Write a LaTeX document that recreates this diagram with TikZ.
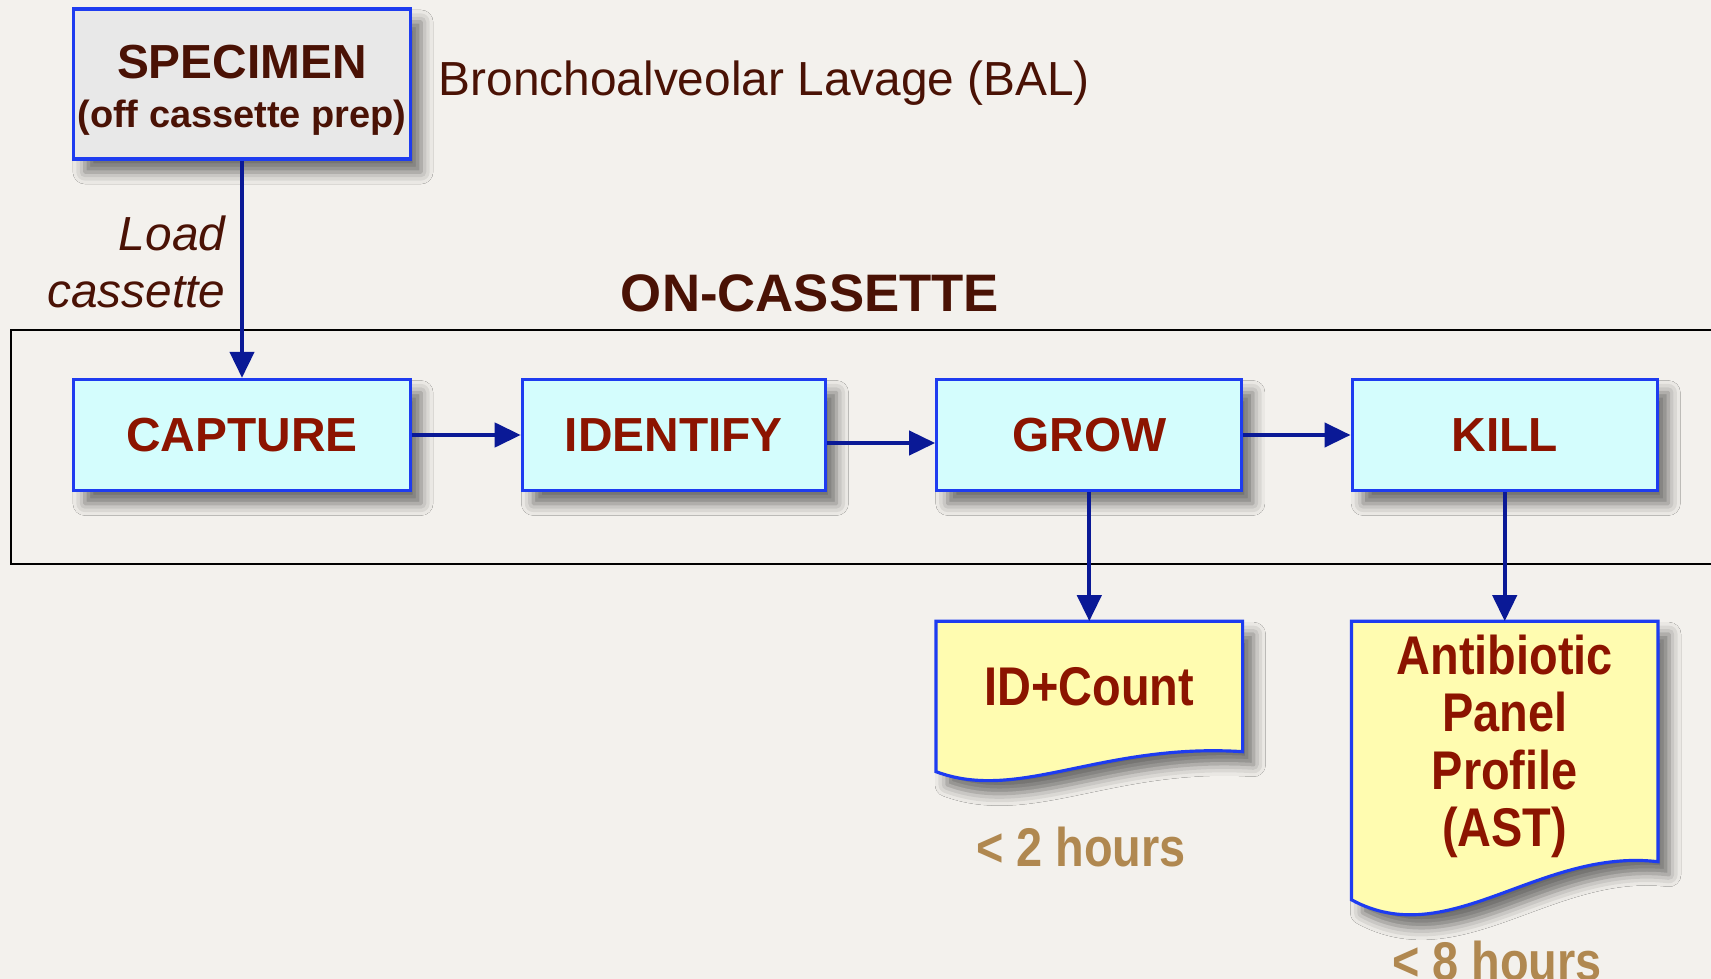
\documentclass[tikz,border=0pt]{standalone}
\usepackage{fontspec}
\setmainfont{Liberation Sans}
\newfontfamily\narrowfont[FakeStretch=0.86]{Liberation Sans}
\usetikzlibrary{arrows.meta,positioning,shadows.blur,backgrounds}

\definecolor{bgpaper}{RGB}{243,241,237}
\definecolor{boxblue}{RGB}{30,60,240}
\definecolor{arrownavy}{RGB}{10,25,150}
\definecolor{stepcyan}{RGB}{212,253,253}
\definecolor{resultyellow}{RGB}{255,252,176}
\definecolor{specgray}{RGB}{232,232,232}
\definecolor{textred}{RGB}{140,20,0}
\definecolor{textbrown}{RGB}{74,18,5}
\definecolor{timetan}{RGB}{176,136,80}

\begin{document}
\begin{tikzpicture}[
  x=0.01cm, y=-0.01cm,
  boxshadow/.style={blur shadow={shadow xshift=0.11cm,shadow yshift=-0.13cm,
    shadow blur radius=0.12cm,shadow opacity=55}},
  stage/.style={draw=boxblue, line width=0.9pt, fill=stepcyan, boxshadow,
    minimum width=3.05cm, minimum height=1.11cm, inner sep=0pt,
    text=textred, font=\bfseries\fontsize{13.6}{16}\selectfont},
  specbox/.style={draw=boxblue, line width=0.9pt, fill=specgray, boxshadow,
    minimum width=3.36cm, minimum height=1.5cm, inner sep=0pt, align=center,
    text=textbrown, font=\bfseries\fontsize{10.8}{13}\selectfont},
  result/.style={text=textred, align=center, inner sep=0pt,
    font=\narrowfont\bfseries\fontsize{15.5}{16.3}\selectfont},
  docshape/.style={draw=boxblue, line width=0.9pt, fill=resultyellow, boxshadow},
  flow/.style={draw=arrownavy, line width=1.2pt, -{Triangle[length=0.26cm,width=0.24cm]}},
  hours/.style={text=timetan, inner sep=0pt, font=\narrowfont\bfseries\fontsize{15.5}{18}\selectfont}]

  \useasboundingbox (0,0) rectangle (1711,979);

  % specimen, off the cassette
  \node[specbox] (specimen) at (242,84)
    {{\fontsize{13.6}{16}\selectfont\rule{0pt}{13pt}SPECIMEN}\\[1pt](off cassette prep)};
  \node[anchor=base west, inner sep=0pt, text=textbrown,
    font=\fontsize{13.6}{16}\selectfont] (bal) at (438,96) {Bronchoalveolar Lavage (BAL)};
  \node[anchor=east, align=right, inner sep=0pt, text=textbrown,
    font=\itshape\fontsize{13.6}{16.4}\selectfont] (load) at (226,262) {Load\\cassette};

  % the cassette
  \node[anchor=base, inner sep=0pt, text=textbrown,
    font=\bfseries\fontsize{15}{18}\selectfont] (oncassette) at (810,312) {ON-CASSETTE};
  \draw[line width=0.5pt] (11,330) rectangle (1740,564);

  \node[stage, minimum width=3.36cm] (capture) at (242,435) {CAPTURE};
  \node[stage, minimum width=3.03cm, right=1.09cm of capture] (identify) {IDENTIFY};
  \node[stage, right=1.08cm of identify] (grow) {GROW};
  \node[stage, right=1.07cm of grow] (kill) {KILL};

  % results
  \node[result, minimum width=3.05cm, minimum height=1.29cm, below=1.29cm of grow] (idcount) {ID+Count};
  \node[result, minimum width=3.05cm, minimum height=2.39cm, below=1.29cm of kill] (ast)
    {\rule{0pt}{14pt}Antibiotic\\Panel\\Profile\\(AST)};
  \node[hours, anchor=base] (twohours) at (1081,866) {< 2 hours};
  \node[hours, anchor=base] (eighthours) at (1497,980) {< 8 hours};

  \draw[flow] (specimen) -- (capture);
  \draw[flow] (capture) -- (identify);
  \draw[flow] ([yshift=-0.08cm]identify.east) -- ([yshift=-0.08cm]grow.west);
  \draw[flow] (grow) -- (kill);
  \draw[flow] (grow) -- (idcount);
  \draw[flow] (kill) -- (ast);

  \begin{scope}[on background layer]
    \fill[bgpaper] (0,0) rectangle (1711,979);
    \draw[docshape] (idcount.north west) -- (idcount.north east) -- (idcount.south east)
      .. controls +(-142,-9) and +(83,31) .. ([yshift=-0.2cm]idcount.south west) -- cycle;
    \draw[docshape] (ast.north west) -- (ast.north east) -- (ast.south east)
      .. controls +(-119,-14) and +(97,53) .. ([yshift=-0.38cm]ast.south west) -- cycle;
  \end{scope}
\end{tikzpicture}
\end{document}
